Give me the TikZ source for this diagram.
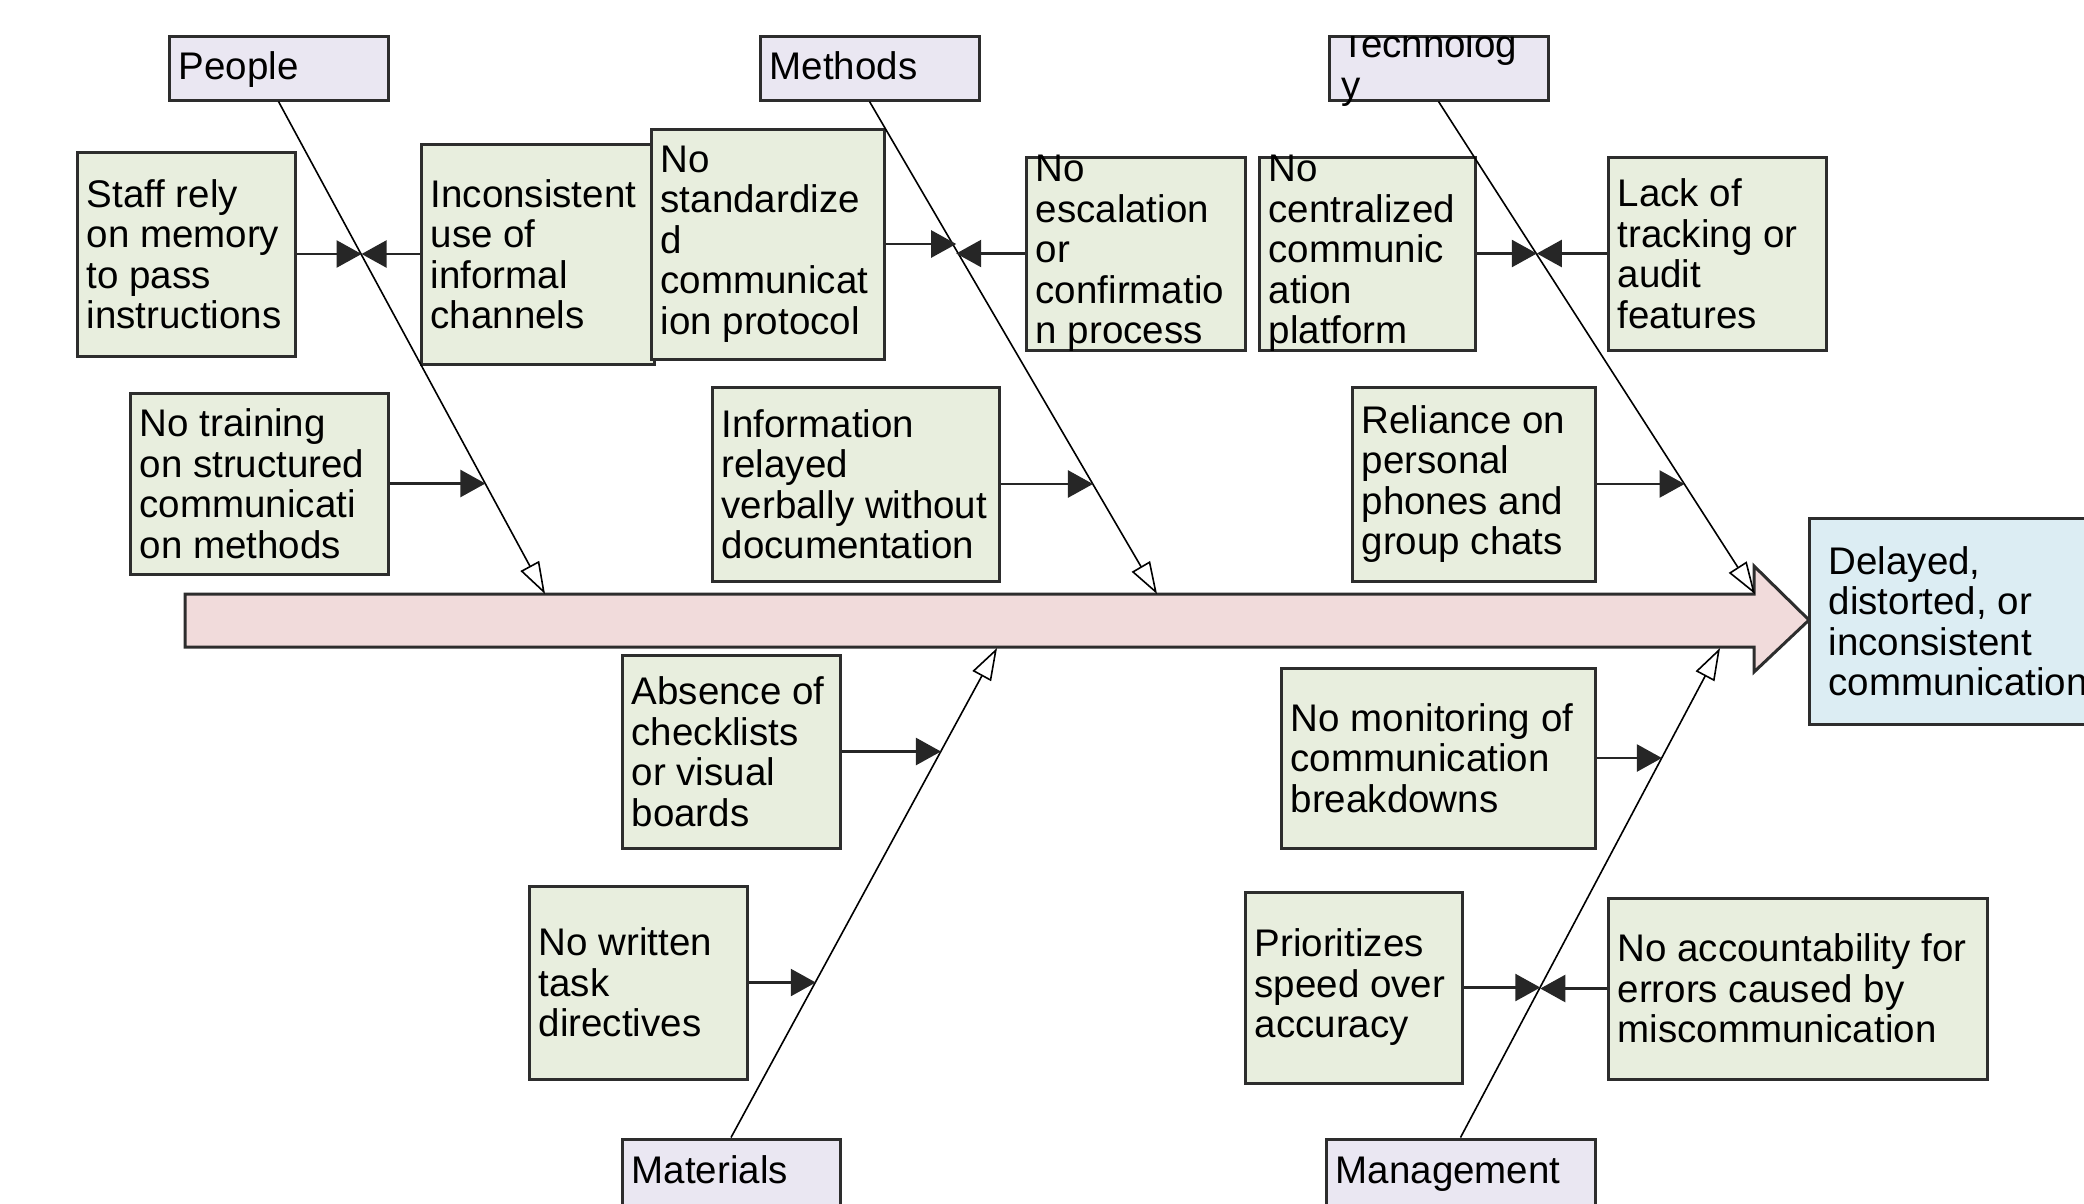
\documentclass[tikz,border=0pt]{standalone}
\usepackage{fontspec}
\setmainfont{Liberation Sans}
\usetikzlibrary{arrows.meta,calc}
\definecolor{catfill}{RGB}{234,231,242}
\definecolor{causefill}{RGB}{232,238,222}
\definecolor{efffill}{RGB}{220,237,243}
\definecolor{spinefill}{RGB}{241,219,219}
\definecolor{edgec}{RGB}{45,45,45}
\newcommand\causenode[6]{%
  \node[causebox, minimum width=#4pt, minimum height=#5pt] (#1) at (#2,#3) {};
  \node[txt] (#1T) at ([xshift=11pt]#1.west) {#6};}
\begin{document}
\begin{tikzpicture}[x=1pt,y=-1pt,
  catbox/.style={draw=edgec, fill=catfill, line width=3pt, inner sep=0pt, minimum width=219pt, minimum height=64pt},
  causebox/.style={draw=edgec, fill=causefill, line width=3pt, inner sep=0pt},
  effbox/.style={draw=edgec, fill=efffill, line width=3pt, inner sep=0pt},
  txt/.style={anchor=west, align=left, inner sep=0pt, font=\fontsize{38.5}{40.5}\selectfont},
  cattxt/.style={txt, anchor=base west},
  catline/.style={draw=black, line width=1.6pt, -{Triangle[open,length=32pt,width=21pt]}},
  subline/.style={draw=black!85, line width=2.5pt, -{Triangle[length=25pt,width=27pt]}},
]
\useasboundingbox (0,0) rectangle (2084,1203);

% spine
\draw[draw=edgec, fill=spinefill, line width=3pt, line join=miter]
  (185,594) -- (1754,594) -- (1754,566) -- (1809,620) -- (1754,672) -- (1754,647) -- (185,647) -- cycle;

% effect
\node[effbox, minimum width=301pt, minimum height=206pt] (effect) at (1959.5,621) {};
\node[txt] (effectT) at ([xshift=21pt]effect.west) {Delayed,\\distorted, or\\inconsistent\\communication};

% categories
\node[catbox] (people) at (278.5,68) {};
\node[cattxt] (peopleT) at ([xshift=11pt,yshift=-11pt]people.west) {People};
\node[catbox] (methods) at (869.5,68) {};
\node[cattxt] (methodsT) at ([xshift=11pt,yshift=-11pt]methods.west) {Methods};
\node[catbox] (tech) at (1438.5,68) {};
\begin{scope}
  \clip (1329,36) rectangle (1560,130);
  \node[txt] (techT) at ([xshift=14pt]tech.west) {Technolog\\y};
\end{scope}
\node[catbox, minimum width=218pt, minimum height=76pt] (mat) at (731,1177) {};
\node[cattxt] (matT) at ([xshift=11pt,yshift=-6pt]mat.west) {Materials};
\node[catbox, minimum width=269pt, minimum height=76pt] (mgmt) at (1460.5,1177) {};
\node[cattxt] (mgmtT) at ([xshift=11pt,yshift=-6pt]mgmt.west) {Management};

% causes
\causenode{staff}{186}{254}{218}{204}{Staff rely\\on memory\\to pass\\instructions}
\causenode{incons}{537.5}{254}{233}{220}{Inconsistent\\use of\\informal\\channels}
\causenode{nostd}{767.5}{244}{233}{230}{No\\standardize\\d\\communicat\\ion protocol}
\causenode{noesc}{1135.5}{253.5}{219}{193}{No\\escalation\\or\\confirmatio\\n process}
\causenode{nocen}{1367}{253.5}{216}{193}{No\\centralized\\communic\\ation\\platform}
\causenode{lack}{1717}{253.5}{218}{193}{Lack of\\tracking or\\audit\\features}
\causenode{train}{259}{483.5}{258}{181}{No training\\on structured\\communicati\\on methods}
\causenode{info}{855.5}{484}{287}{194}{Information\\relayed\\verbally without\\documentation}
\causenode{reli}{1473.5}{484}{243}{194}{Reliance on\\personal\\phones and\\group chats}
\causenode{absn}{731}{751.5}{218}{193}{Absence of\\checklists\\or visual\\boards}
\causenode{nowr}{638}{982.5}{218}{193}{No written\\task\\directives}
\causenode{nomon}{1438}{758}{314}{180}{No monitoring of\\communication\\breakdowns}
\causenode{prio}{1353.5}{987.5}{217}{191}{Prioritizes\\speed over\\accuracy}
\causenode{noacc}{1797.5}{988.5}{379}{181}{No accountability for\\errors caused by\\miscommunication}

% category line ends
\coordinate (pE) at (545,594);
\coordinate (mE) at (1157,594);
\coordinate (tE) at (1755,594);
\coordinate (aE) at (997,648);
\coordinate (gE) at (1720,648);

\draw[catline] (people.south) -- (pE);
\draw[catline] (methods.south) -- (mE);
\draw[catline] (tech.south) -- (tE);
\draw[catline] (mat.north) -- (aE);
\draw[catline] (mgmt.north) -- (gE);

% points on category lines
\coordinate (p1) at ($(people.south)!0.3117!(pE)$);
\coordinate (p2) at ($(people.south)!0.7763!(pE)$);
\coordinate (m1) at ($(methods.south)!0.3016!(mE)$);
\coordinate (m2) at ($(methods.south)!0.7773!(mE)$);
\coordinate (t1) at ($(tech.south)!0.3107!(tE)$);
\coordinate (t2) at ($(tech.south)!0.7773!(tE)$);
\coordinate (a1) at ($(mat.north)!0.7892!(aE)$);
\coordinate (a2) at ($(mat.north)!0.3187!(aE)$);
\coordinate (g1) at ($(mgmt.north)!0.776!(gE)$);
\coordinate (g2) at ($(mgmt.north)!0.3075!(gE)$);

% sub-cause connectors
\draw[subline] (staff.east) -- (staff.east -| p1);
\draw[subline] (incons.west) -- (incons.west -| p1);
\draw[subline] (train.east) -- (train.east -| p2);
\draw[subline] (nostd.east) -- (nostd.east -| m1);
\draw[subline] (noesc.west) -- (noesc.west -| m1);
\draw[subline] (info.east) -- (info.east -| m2);
\draw[subline] (nocen.east) -- (nocen.east -| t1);
\draw[subline] (lack.west) -- (lack.west -| t1);
\draw[subline] (reli.east) -- (reli.east -| t2);
\draw[subline] (absn.east) -- (absn.east -| a1);
\draw[subline] (nowr.east) -- (nowr.east -| a2);
\draw[subline] (nomon.east) -- (nomon.east -| g1);
\draw[subline] (prio.east) -- (prio.east -| g2);
\draw[subline] (noacc.west) -- (noacc.west -| g2);
\end{tikzpicture}
\end{document}
